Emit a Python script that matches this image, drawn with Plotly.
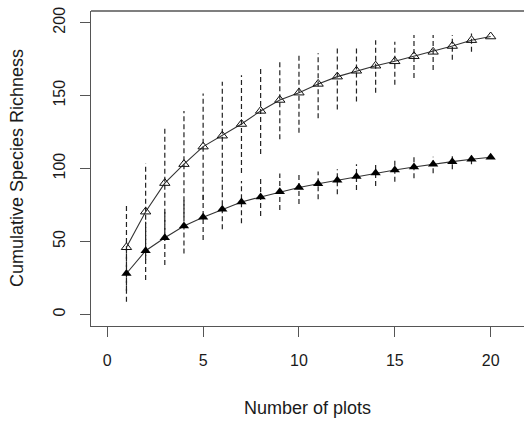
import plotly.graph_objects as go

# Number of plots sampled
plots = list(range(1, 21))

# Open triangles: cumulative richness, with lower / upper bar limits
richness_a = [46, 70.4, 90, 103, 115, 122.5, 130.5, 139.5, 147, 152,
              158, 163, 167, 170.5, 173.5, 177, 180, 184, 188, 190.5]
richness_a_lo = [16, 37.5, 52.5, 66.5, 78.5, 85.5, 97, 110, 120, 124.5,
                 134.5, 140.5, 146, 152, 157.5, 162, 167.5, 174.5, 180, 190.5]
richness_a_hi = [76, 103.5, 127.5, 139.5, 151.5, 159.5, 164, 169, 174, 179,
                 179, 184, 183.5, 188, 187, 191.5, 191.5, 191.5, 192.5, 190.5]

# Filled triangles: cumulative richness, with lower / upper bar limits
richness_b = [28, 43.6, 52.5, 60.5, 66.5, 72, 77, 80.5, 84, 87,
              89.5, 92, 94.5, 97, 99, 101, 103, 104.7, 106.3, 107.7]
richness_b_lo = [8.6, 23.5, 33.8, 41.8, 51, 58.3, 62.4, 67.4, 71.5, 75.6,
                 78.9, 82.3, 85.3, 88, 91, 93.3, 96.7, 99.4, 103, 107.7]
richness_b_hi = [47, 63.5, 71, 79, 82, 86, 91.5, 93.5, 96.5, 97,
                 98, 99.5, 103, 104, 106, 108, 108, 109, 109, 107.7]

x_ticks = [0, 5, 10, 15, 20]
y_ticks = [0, 50, 100, 150, 200]

FONT = "Liberation Sans, Arial, sans-serif"
INK = "#1a1a1a"


def bar_path(xs, lo, hi):
    px, py = [], []
    for x, a, b in zip(xs, lo, hi):
        px += [x, x, None]
        py += [a, b, None]
    return px, py


fig = go.Figure()

for lo, hi in ((richness_a_lo, richness_a_hi), (richness_b_lo, richness_b_hi)):
    bx, by = bar_path(plots, lo, hi)
    fig.add_trace(go.Scatter(
        x=bx, y=by, mode="lines", hoverinfo="skip", showlegend=False,
        line=dict(color="#222222", width=1.2, dash="5px,3px"),
    ))

fig.add_trace(go.Scatter(
    x=plots, y=richness_a, mode="lines+markers", showlegend=False,
    line=dict(color="#333333", width=1.1),
    marker=dict(symbol="triangle-up-open", size=9,
                color="#111111", line=dict(width=1, color="#111111")),
))
fig.add_trace(go.Scatter(
    x=plots, y=richness_b, mode="lines+markers", showlegend=False,
    line=dict(color="#333333", width=1.1),
    marker=dict(symbol="triangle-up", size=9, color="#000000",
                line=dict(width=0)),
))

axis_common = dict(
    showgrid=False, zeroline=False, showline=True, linecolor="#555555",
    linewidth=1.3, ticks="outside", ticklen=10, tickwidth=1.3,
    tickcolor="#555555", tickfont=dict(family=FONT, size=16, color=INK),
)

fig.update_xaxes(range=[-0.85, 21.74], tickvals=x_ticks,
                 ticklabelstandoff=10, **axis_common)
fig.update_yaxes(range=[-8, 208], tickvals=y_ticks, tickangle=-90,
                 ticklabelstandoff=8, **axis_common)

fig.add_shape(type="line", xref="paper", yref="paper", x0=0, x1=1, y0=1, y1=1,
              line=dict(color="#555555", width=1.3))

fig.add_annotation(text="Number of plots", xref="paper", yref="paper",
                   x=0.5, y=-0.26, xanchor="center", yanchor="middle",
                   showarrow=False, font=dict(family=FONT, size=18, color=INK))
fig.add_annotation(text="Cumulative Species Richness", xref="paper", yref="paper",
                   x=-0.172, y=0.5, xanchor="center", yanchor="middle",
                   textangle=-90, showarrow=False,
                   font=dict(family=FONT, size=18, color=INK))

fig.update_layout(
    width=524, height=425,
    margin=dict(l=91, r=0, t=11, b=99),
    paper_bgcolor="white", plot_bgcolor="white",
)

fig.write_html("out.html")
